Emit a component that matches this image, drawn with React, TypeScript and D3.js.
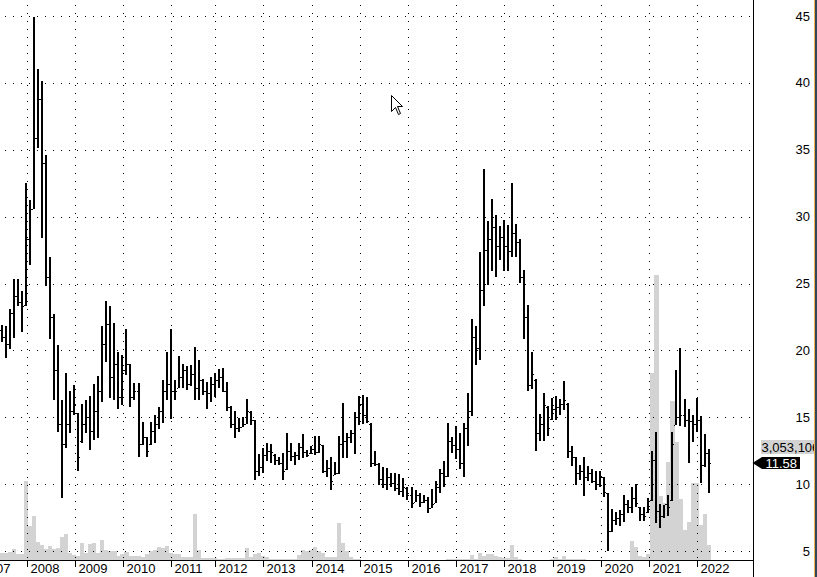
import React from "react";
import * as d3 from "d3";

// Monthly bars, Jun 2007 .. Mar 2022 (one 2011 month absent in the source data)
const missingMonth = "2011-09";
const months: string[] = (() => {
  const out: string[] = [];
  let y = 2007, m = 6;
  while (y < 2022 || (y === 2022 && m <= 3)) {
    const s = `${y}-${String(m).padStart(2, "0")}`;
    if (s !== missingMonth) out.push(s);
    m++;
    if (m > 12) { m = 1; y++; }
  }
  return out;
})();

const highs = [
  21.9, 21.8, 23.1, 25.3, 25.3, 24.45, 32.55, 31.25, 44.95, 41.05, 40.15, 34.6, 27.0, 22.75, 20.4, 16.3, 18.3, 17.0, 17.4, 15.35,
  16.0, 16.3, 16.6, 17.5, 18.1, 21.8, 23.7, 23.3, 22.05, 19.85, 19.65, 21.6, 19.0, 17.55, 17.55, 14.65, 13.55, 14.65, 15.15, 15.8,
  17.8, 19.9, 21.6, 17.8, 19.6, 19.0, 18.8, 18.9, 20.25, 19.3, 17.85, 17.65, 18.0, 18.3, 18.6, 18.7, 17.6, 15.85, 15.5, 14.95,
  15.0, 16.35, 15.45, 14.8, 12.25, 12.7, 13.05, 13.0, 12.25, 12.05, 12.3, 13.8, 13.05, 12.4, 13.05, 13.75, 12.55, 12.85, 13.6, 13.6,
  12.95, 11.8, 12.0, 11.65, 13.6, 16.05, 13.8, 14.05, 15.4, 16.6, 16.65, 16.5, 14.55, 12.45, 11.55, 11.25, 11.2, 10.85, 10.8, 10.75,
  10.45, 9.75, 9.75, 9.55, 9.3, 9.2, 9.05, 9.6, 10.2, 11.15, 11.75, 14.6, 13.55, 14.35, 13.8, 14.55, 16.8, 22.35, 21.8, 27.35,
  33.55, 29.65, 31.35, 30.1, 29.3, 29.75, 29.35, 32.55, 29.45, 28.35, 26.0, 23.4, 19.9, 17.85, 15.25, 16.8, 15.85, 16.45, 16.6, 16.4,
  17.7, 16.05, 12.85, 12.05, 11.45, 12.05, 11.35, 11.1, 11.0, 10.95, 10.5, 9.3, 8.15, 7.95, 8.05, 9.2, 8.8, 9.8, 10.0, 8.3,
  8.3, 9.0, 12.5, 13.9, 8.5, 8.45, 9.2, 13.9, 18.55, 20.2, 16.4, 15.6, 15.2, 16.45, 15.1, 13.75, 12.65,
];
const lows = [
  20.65, 19.4, 20.1, 20.95, 23.3, 21.4, 23.3, 26.35, 30.55, 35.1, 28.4, 24.85, 20.85, 16.3, 13.9, 9.0, 12.7, 13.85, 15.15, 11.0,
  13.1, 13.8, 12.55, 13.3, 13.45, 16.15, 19.1, 16.45, 16.3, 15.6, 15.9, 18.15, 15.75, 16.3, 12.05, 12.95, 12.05, 12.95, 13.05, 14.15,
  14.55, 16.3, 14.9, 16.3, 17.15, 17.15, 17.05, 17.3, 16.3, 16.3, 16.65, 15.65, 16.15, 16.55, 17.2, 16.9, 15.5, 14.2, 13.45, 13.9,
  14.3, 14.5, 14.45, 10.3, 10.6, 10.8, 11.7, 11.6, 11.4, 11.4, 10.3, 11.05, 11.7, 11.45, 11.8, 11.95, 12.0, 12.25, 12.2, 12.3,
  10.8, 10.5, 9.55, 10.65, 10.75, 11.95, 11.95, 13.05, 12.25, 14.4, 14.5, 14.55, 11.25, 11.35, 9.95, 9.7, 9.55, 9.8, 9.45, 9.2,
  9.05, 8.8, 8.25, 8.7, 8.3, 8.6, 7.85, 8.2, 8.6, 9.35, 9.75, 10.55, 12.35, 11.85, 11.1, 10.5, 12.85, 15.1, 18.9, 19.25,
  23.3, 24.9, 25.95, 25.5, 26.75, 25.9, 25.9, 26.95, 26.95, 25.05, 20.85, 17.0, 17.1, 12.5, 13.2, 13.2, 13.6, 14.8, 14.8, 15.15,
  15.55, 11.95, 11.35, 9.95, 10.3, 9.1, 10.2, 10.1, 9.55, 9.8, 9.05, 5.0, 6.45, 6.95, 6.85, 7.2, 7.85, 7.85, 8.3, 7.25,
  7.25, 7.85, 8.75, 7.1, 6.75, 7.5, 7.65, 8.75, 14.4, 14.35, 14.3, 11.55, 13.15, 13.9, 10.1, 11.3, 9.3,
];
const opens = [
  21.5, 21.0, 20.5, 22.8, 24.1, 23.6, 23.4, 28.3, 30.6, 35.9, 38.8, 34.0, 25.5, 22.5, 18.5, 14.5, 13.0, 14.5, 15.5, 15.3,
  13.2, 14.5, 15.0, 14.0, 15.5, 17.0, 20.5, 22.0, 18.0, 19.0, 16.5, 18.5, 19.0, 16.5, 17.0, 13.0, 13.5, 13.0, 14.0, 14.5,
  15.5, 17.0, 17.5, 17.0, 17.2, 18.0, 18.5, 17.5, 18.2, 17.2, 17.8, 17.0, 16.8, 17.5, 17.8, 18.0, 17.0, 15.8, 14.5, 14.2,
  14.3, 14.5, 15.4, 14.8, 11.0, 11.3, 12.2, 12.5, 12.2, 11.8, 11.6, 11.1, 12.5, 12.1, 12.2, 12.8, 12.4, 12.3, 12.6, 12.4,
  12.9, 11.0, 11.2, 10.7, 10.8, 13.0, 13.2, 13.5, 13.8, 15.0, 16.0, 15.2, 14.5, 11.6, 11.5, 10.4, 10.0, 10.5, 10.1, 9.7,
  9.5, 9.7, 9.2, 8.7, 9.2, 8.7, 8.8, 8.2, 8.6, 9.8, 10.8, 10.6, 13.2, 12.9, 12.6, 11.6, 14.2, 15.5, 21.0, 20.2,
  24.5, 27.5, 28.3, 29.2, 27.8, 28.5, 27.8, 27.4, 28.8, 28.1, 25.5, 22.5, 17.4, 17.8, 13.8, 14.5, 15.8, 14.9, 15.6, 15.8,
  16.0, 16.0, 12.5, 12.0, 10.8, 11.0, 10.5, 10.8, 10.2, 10.0, 10.5, 9.3, 6.5, 7.3, 7.5, 7.8, 8.5, 8.3, 9.0, 8.3,
  7.8, 7.9, 8.8, 11.8, 8.0, 7.6, 8.5, 8.8, 14.4, 15.0, 15.2, 14.8, 14.7, 14.5, 14.8, 11.4, 12.3,
];
const closes = [
  21.0, 20.5, 22.8, 24.1, 23.6, 23.3, 28.3, 30.6, 35.9, 38.8, 34.0, 25.5, 22.5, 18.5, 14.5, 13.0, 14.5, 15.5, 16.0, 12.0,
  14.5, 15.0, 14.0, 15.5, 17.0, 20.5, 22.0, 18.0, 19.0, 16.5, 18.5, 19.0, 16.5, 17.0, 13.0, 13.5, 12.5, 14.0, 14.5, 15.5,
  17.0, 17.5, 17.0, 17.0, 18.0, 18.5, 17.5, 18.2, 17.2, 17.8, 17.0, 16.8, 17.5, 17.8, 18.0, 17.0, 15.8, 14.5, 14.2, 14.3,
  14.5, 15.5, 14.8, 11.0, 11.3, 12.2, 12.5, 12.4, 11.8, 11.6, 11.0, 12.5, 12.1, 12.2, 12.8, 12.4, 12.2, 12.6, 12.4, 13.0,
  11.0, 11.2, 10.2, 10.8, 13.0, 13.2, 13.5, 13.8, 15.0, 16.0, 15.2, 14.7, 11.6, 11.5, 10.4, 10.0, 10.5, 10.1, 9.7, 9.5,
  9.8, 9.2, 8.6, 9.2, 8.7, 8.8, 8.2, 8.5, 9.8, 10.8, 10.6, 13.2, 12.9, 12.6, 11.6, 14.2, 15.5, 21.0, 20.2, 24.5,
  27.5, 28.3, 29.2, 27.8, 28.5, 27.8, 27.4, 28.8, 28.1, 25.5, 22.5, 17.4, 18.2, 13.8, 14.5, 15.9, 14.2, 15.6, 15.8, 16.0,
  16.3, 12.5, 12.0, 10.8, 11.0, 10.5, 10.8, 10.2, 10.0, 10.6, 9.4, 6.5, 7.3, 7.5, 7.8, 8.5, 8.3, 9.0, 8.6, 7.8,
  7.6, 8.4, 11.8, 8.0, 7.6, 8.5, 8.3, 13.0, 15.0, 15.2, 14.8, 14.7, 14.5, 14.8, 11.4, 12.3, 11.58,
];
// volume, millions of shares
const volumes = [
  1.5, 1.5, 1.7, 2.2, 1.3, 1.3, 15.8, 6.8, 8.8, 3.6, 3.0, 2.3, 2.9, 2.3, 2.5, 4.7, 5.2, 1.4, 1.0, 0.8,
  3.4, 1.5, 3.2, 3.4, 1.5, 4.0, 2.1, 1.9, 1.9, 0.8, 1.3, 1.7, 0.8, 0.8, 0.8, 0.7, 1.2, 1.9, 2.1, 2.6,
  2.5, 2.9, 1.5, 1.2, 1.2, 0.7, 0.7, 0.7, 9.3, 2.1, 0.5, 0.4, 0.5, 0.4, 0.3, 0.3, 0.4, 0.4, 0.5, 0.5,
  0.5, 2.5, 0.7, 1.3, 1.4, 0.9, 0.6, 0.3, 0.3, 0.3, 0.3, 0.3, 0.3, 0.3, 1.1, 2.1, 1.9, 2.1, 2.7, 1.9,
  1.5, 0.6, 0.6, 0.6, 7.5, 3.4, 1.9, 0.6, 0.3, 0.15, 0.1, 0.1, 0.1, 0.1, 0.1, 0.1, 0.1, 0.1, 0.1, 0.1,
  0.1, 0.1, 0.1, 0.1, 0.1, 0.1, 0.1, 0.1, 0.1, 0.1, 0.1, 0.15, 0.3, 0.3, 0.3, 0.3, 0.3, 1.1, 0.3, 1.5,
  0.9, 1.3, 1.3, 0.9, 0.6, 0.4, 0.4, 3.1, 0.7, 0.15, 0.05, 0.05, 0.05, 0.05, 0.05, 0.05, 0.05, 0.2, 0.6, 0.3,
  0.9, 0.3, 0.3, 0.2, 0.2, 0.2, 0.1, 0.1, 0.1, 0.1, 0.1, 0.1, 0.1, 0.1, 0.1, 0.1, 0.1, 3.9, 2.7, 0.8,
  0.7, 1.2, 37.5, 57.0, 12.8, 11.5, 19.6, 31.9, 23.6, 12.2, 6.0, 7.6, 15.5, 15.5, 7.0, 9.3, 3.05,
];
const priceTicks = [5, 10, 15, 20, 25, 30, 35, 40, 45];
const lastVolumeLabel = "3,053,106";
const lastCloseLabel = "11.58";

const W = 817;
const H = 577;
const AXIS_X = 753;
const BASE_Y = 560;
const FONT = "'Liberation Sans', Arial, sans-serif";

export default function App() {
  const n = months.length;
  const x = d3.scaleLinear().domain([0, n - 1]).range([2, 708.6]);
  const y = d3.scaleLinear().domain([5, 45]).range([551, 16]);
  const yVol = d3.scaleLinear().domain([0, 100]).range([BASE_Y, BASE_Y - 500]);

  // year boundaries: first bar of each year (plus 2007, which starts before the window)
  const yearStarts: { label: string; pos: number }[] = [];
  const firstYear = +months[0].slice(0, 4);
  const firstMonth = +months[0].slice(5, 7);
  yearStarts.push({ label: String(firstYear), pos: -(firstMonth - 1) });
  months.forEach((m, i) => {
    if (m.endsWith("-01")) yearStarts.push({ label: m.slice(0, 4), pos: i });
  });
  const tickX = (pos: number) => Math.round(x(pos) - 3.5) + 0.5;

  const lastY = y(closes[n - 1]);

  return (
    <svg
      width={W}
      height={H}
      style={{ position: "fixed", left: 0, top: 0, background: "#fff", display: "block" }}
      fontFamily={FONT}
    >
      <rect x={0} y={0} width={W} height={H} fill="#fff" />
      {/* volume */}
      <g shapeRendering="crispEdges" fill="#d3d3d3">
        {volumes.map((v, i) => {
          const xc = x(i);
          const top = yVol(v);
          return <rect key={i} x={xc - 2} y={top} width={4.1} height={BASE_Y - top} />;
        })}
      </g>
      {/* grid */}
      <g stroke="#000" strokeWidth={1} strokeDasharray="1,7" shapeRendering="crispEdges">
        {priceTicks.map((t) => {
          const yy = Math.round(y(t)) + 0.5;
          return <line key={t} x1={5} x2={AXIS_X} y1={yy} y2={yy} />;
        })}
        {yearStarts.filter((d) => tickX(d.pos) > 0).map((d) => (
          <line key={d.label} x1={tickX(d.pos)} x2={tickX(d.pos)} y1={5} y2={BASE_Y} />
        ))}
      </g>
      {/* price bars */}
      <g fill="#000" shapeRendering="crispEdges">
        {highs.map((h, i) => {
          const xc = Math.round(x(i));
          const yh = Math.round(y(h));
          const yl = Math.round(y(lows[i]));
          const yo = Math.round(y(opens[i]));
          const yc = Math.round(y(closes[i]));
          return (
            <g key={i}>
              <rect x={xc - 1} y={yh} width={2} height={Math.max(1, yl - yh)} />
              <rect x={xc - 2} y={yo} width={1} height={1} />
              <rect x={xc + 1} y={yc} width={1} height={1} />
            </g>
          );
        })}
      </g>
      {/* axes */}
      <g stroke="#000" strokeWidth={1} shapeRendering="crispEdges">
        <line x1={AXIS_X + 0.5} x2={AXIS_X + 0.5} y1={0} y2={H} />
        <line x1={0} x2={AXIS_X} y1={BASE_Y + 0.5} y2={BASE_Y + 0.5} />
        {yearStarts.filter((d) => tickX(d.pos) > 0).map((d) => (
          <line key={d.label} x1={tickX(d.pos)} x2={tickX(d.pos)} y1={BASE_Y + 1} y2={BASE_Y + 7} />
        ))}
      </g>
      <g fontSize={13} fill="#000">
        {yearStarts.map((d) => (
          <text key={d.label} x={tickX(d.pos) + 3} y={572.5}>
            {d.label}
          </text>
        ))}
        {priceTicks.map((t) => (
          <text key={t} x={810} y={y(t) + 4.5} textAnchor="end">
            {t}
          </text>
        ))}
      </g>
      {/* last volume label */}
      <rect x={761} y={440} width={56} height={14} fill="#d3d3d3" />
      <text x={761.5} y={451.5} fontSize={13} fill="#000">
        {lastVolumeLabel}
      </text>
      {/* last close label */}
      <path
        d={`M${AXIS_X - 0.5},${lastY} L${AXIS_X + 9},${lastY - 6} L800,${lastY - 6} L800,${lastY + 6} L${AXIS_X + 9},${lastY + 6} Z`}
        fill="#000"
      />
      <text x={765.5} y={lastY + 5} fontSize={13} fill="#fff">
        {lastCloseLabel}
      </text>
      {/* right window edge */}
      <rect x={814} y={0} width={1} height={H} fill="#f2b24a" />
      <rect x={815} y={0} width={2} height={H} fill="#34465a" />
      {/* mouse pointer */}
      <path
        d="M391.5,95.5 L391.5,111.5 L395.5,107.5 L398.5,114.5 L400.5,113.5 L397.5,106.5 L402.5,106.5 Z"
        fill="#fff"
        stroke="#000"
        strokeWidth={1}
      />
    </svg>
  );
}
